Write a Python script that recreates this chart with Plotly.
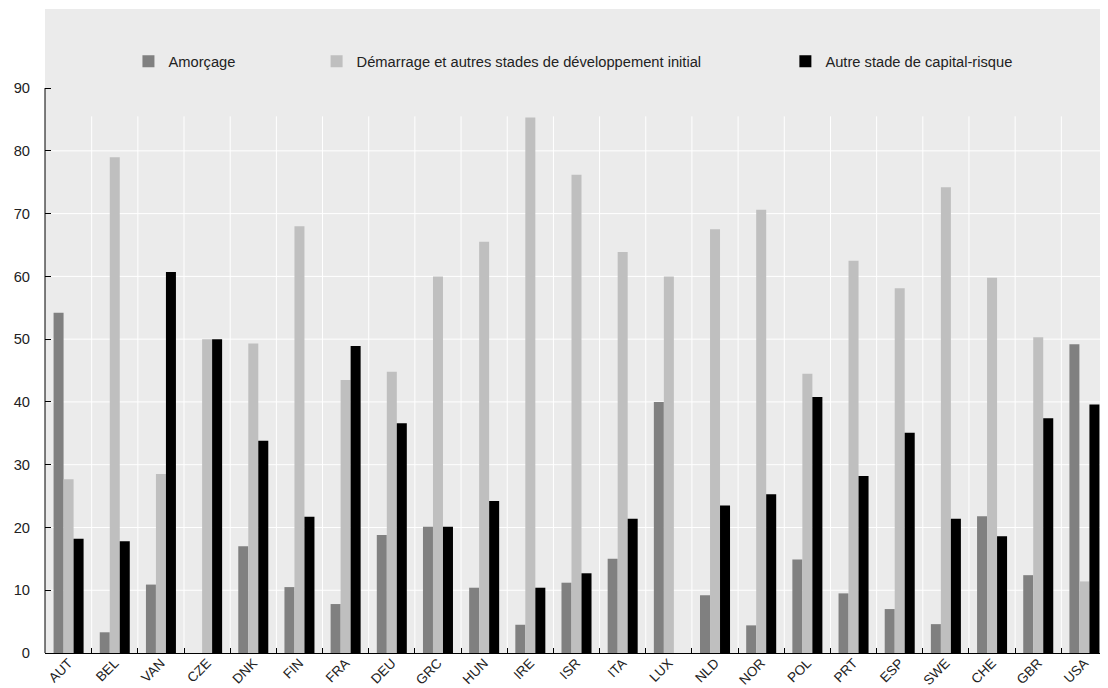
import plotly.graph_objects as go

categories = ["AUT", "BEL", "VAN", "CZE", "DNK", "FIN", "FRA", "DEU", "GRC", "HUN", "IRE", "ISR",
              "ITA", "LUX", "NLD", "NOR", "POL", "PRT", "ESP", "SWE", "CHE", "GBR", "USA"]
amorcage = [54.2, 3.3, 10.9, 0.0, 17.0, 10.5, 7.8, 18.8, 20.1, 10.4, 4.5, 11.2,
            15.0, 40.0, 9.2, 4.4, 14.9, 9.5, 7.0, 4.6, 21.8, 12.4, 49.2]
demarrage = [27.7, 79.0, 28.5, 50.0, 49.3, 68.0, 43.5, 44.8, 60.0, 65.5, 85.3, 76.2,
             63.9, 60.0, 67.5, 70.6, 44.5, 62.5, 58.1, 74.2, 59.8, 50.3, 11.4]
autre = [18.2, 17.8, 60.7, 50.0, 33.8, 21.7, 48.9, 36.6, 20.1, 24.2, 10.4, 12.7,
         21.4, 0.0, 23.5, 25.3, 40.8, 28.2, 35.1, 21.4, 18.6, 37.4, 39.6]

series_names = ["Amorçage", "Démarrage et autres stades de développement initial",
                "Autre stade de capital-risque"]
series_values = [amorcage, demarrage, autre]
series_colors = ["#808080", "#bfbfbf", "#000000"]
legend_ids = ["legend", "legend2", "legend3"]
legend_x = [0.0785, 0.2555, 0.6965]

y_ticks = [0, 10, 20, 30, 40, 50, 60, 70, 80, 90]
grid_vals = [10, 20, 30, 40, 50, 60, 70, 80]
vgrid_top = 85.5

FONT = "Liberation Sans, Arial, sans-serif"
FS = 14.7

fig = go.Figure()
for name, vals, col, lg in zip(series_names, series_values, series_colors, legend_ids):
    fig.add_trace(go.Bar(x=categories, y=vals, name=name, marker_color=col,
                         marker_line_width=0, legend=lg))

shapes = []
for v in grid_vals:
    shapes.append(dict(type="line", xref="x", yref="y", x0=-0.5, x1=len(categories) - 0.5,
                       y0=v, y1=v, line=dict(color="white", width=1), layer="below"))
for i in range(1, len(categories)):
    shapes.append(dict(type="line", xref="x", yref="y", x0=i - 0.5, x1=i - 0.5,
                       y0=0, y1=vgrid_top, line=dict(color="white", width=1), layer="below"))
shapes.append(dict(type="line", xref="paper", yref="y", x0=0, x1=0, y0=0, y1=max(y_ticks),
                   line=dict(color="black", width=1)))

legend_common = dict(orientation="h", yanchor="middle", y=0.918, xanchor="left",
                     bgcolor="rgba(0,0,0,0)", font=dict(family=FONT, size=FS, color="#222"),
                     itemclick=False)

# page body has an 8px margin: figure sized/offset to compensate
fig.update_layout(
    width=1100, height=680,
    margin=dict(l=37, r=0, t=1, b=35, autoexpand=False),
    paper_bgcolor="white", plot_bgcolor="#ebebeb",
    barmode="group", bargap=0.35, bargroupgap=0,
    font=dict(family=FONT, size=FS, color="#222"),
    shapes=shapes,
    showlegend=True,
    legend=dict(x=legend_x[0], **legend_common),
    legend2=dict(x=legend_x[1], **legend_common),
    legend3=dict(x=legend_x[2], **legend_common),
    xaxis=dict(type="category", tickangle=-45, showgrid=False, showline=True,
               linecolor="black", linewidth=1, ticks="inside", tickson="boundaries",
               ticklen=5, tickcolor="black", automargin=False, ticklabelstandoff=-4,
               tickfont=dict(family=FONT, size=13.5, color="#222")),
    yaxis=dict(range=[0, 102.6], tickvals=y_ticks, showgrid=False, zeroline=False,
               showline=False, ticks="inside", ticklen=6, tickcolor="black",
               ticklabelstandoff=14, automargin=False,
               tickfont=dict(family=FONT, size=FS, color="#222")),
)

fig.write_html("out.html")
